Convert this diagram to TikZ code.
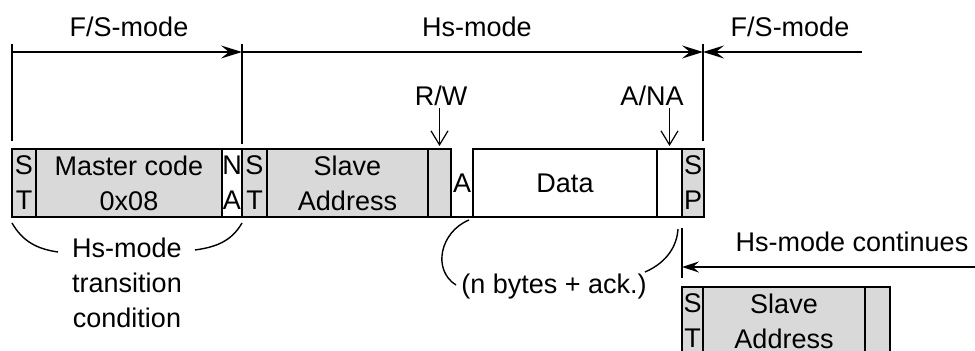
\documentclass[tikz,border=0pt]{standalone}
\usepackage{fontspec}
\setmainfont{Liberation Sans}
\usepackage{tikz}
\usetikzlibrary{arrows.meta}
\definecolor{cellgray}{gray}{0.85}

\begin{document}
\begin{tikzpicture}[x=0.5pt, y=-0.5pt,
    font=\fontsize{13.5}{17.5}\selectfont,
    cell/.style={draw, line width=1pt, inner sep=0pt, outer sep=0pt, anchor=west,
                 align=center, minimum height=34pt},
    grey/.style={cell, fill=cellgray},
    blank/.style={cell, fill=white},
    bound/.style={line width=1pt},
    span/.style={line width=0.75pt},
    tipl/.style={{Stealth[length=10.5pt, width=6.5pt, inset=4pt]}-},
    tipr/.style={-{Stealth[length=10.5pt, width=6.5pt, inset=4pt]}},
    pointer/.style={line width=0.6pt, -{Straight Barb[length=7pt, width=8.5pt]}, shorten >=1.5pt},
    bow/.style={line width=0.7pt}]
    \useasboundingbox (0,0) rectangle (975,351);
    \clip (0,0) rectangle (975,351);

    % mode labels and boundaries
    \node (fs1) at (129,27) {F/S-mode};
    \node (hs)  at (477,27) {Hs-mode};
    \node (fs2) at (790,27) {F/S-mode};
    \coordinate (b0) at (12,44);
    \coordinate (b1) at (242,44);
    \coordinate (b2) at (703,44);
    \draw[bound] (b0) -- (12,141);
    \draw[bound] (b1) -- (242,144);
    \draw[bound] (b2) -- (703,141);
    \coordinate (a0) at (12,52);
    \coordinate (a1) at (242,52);
    \coordinate (a2) at (703,52);
    \coordinate (a3) at (862,52);
    \draw[span, tipl, tipr] (a0) -- (a1);
    \draw[span, tipl, tipr] (a1) -- (a2);
    \draw[span, tipl] (a2) -- (a3);

    % frame
    \node[grey,  minimum width=12pt]   (st1)   at (12,183)  {S\\T};
    \node[grey,  minimum width=93pt]   (mcode) at (36,183)  {Master code\\0x08};
    \node[blank, minimum width=10pt]   (na)    at (222,183) {N\\A};
    \node[grey,  minimum width=12.5pt] (st2)   at (242,183) {S\\T};
    \node[grey,  minimum width=80.5pt] (saddr) at (267,183) {Slave\\Address};
    \node[grey,  minimum width=11.5pt] (rw)    at (428,183) {};
    \node[cell, draw=none, minimum width=11pt] (ack) at (451,183) {A};
    \draw[line width=1pt] (ack.south west) -- (ack.south east);
    \node[blank, minimum width=92pt]   (data)  at (473,183) {Data};
    \node[blank, minimum width=12.5pt] (an)    at (657,183) {};
    \node[grey,  minimum width=11pt]   (sp)    at (682,183) {S\\P};

    % bit labels
    \node[inner sep=1pt] (rwlbl) at (441,96) {R/W};
    \node[inner sep=1pt] (anlbl) at (652,96) {A/NA};
    \draw[pointer] (rw.north |- rwlbl.south) -- (rw.north);
    \draw[pointer] (an.north |- anlbl.south) -- (an.north);

    % transition condition
    \node[align=center] (trans) at (127,283) {Hs-mode\\transition\\condition};
    \coordinate (lbend) at (58,252);
    \coordinate (rbend) at (195,250);
    \draw[bow] ([yshift=-3pt]st1.south west) to[out=-60, in=172] (lbend);
    \draw[bow] (rbend) to[out=8, in=-120] ([yshift=-3pt]na.south east);

    % data bytes
    \node (nbytes) at (554,287) {(n bytes + ack.)};
    \draw[bow] ([xshift=-2pt, yshift=-1.5pt]ack.south east)
        .. controls (440,232) and (432,270) .. (456,285);
    \draw[bow] (645,272) .. controls (668,262) and (677,245)
        .. ([xshift=-2pt, yshift=-6pt]sp.south west);

    % Hs-mode continues
    \node (cont) at (852,242) {Hs-mode continues};
    \coordinate (c0) at (682,228);
    \coordinate (c1) at (682,267);
    \coordinate (c2) at (975,267);
    \draw[bound] (c0) -- (682,278);
    \draw[span, {Stealth[length=8.5pt, width=5.5pt, inset=3pt]}-] (c1) -- (c2);

    \node[grey, minimum width=10.5pt] (st3)    at (682,321) {S\\T};
    \node[grey, minimum width=81pt]   (saddr2) at (703,321) {Slave\\Address};
    \node[grey, minimum width=12.5pt] (rw2)    at (865,321) {};
\end{tikzpicture}
\end{document}
